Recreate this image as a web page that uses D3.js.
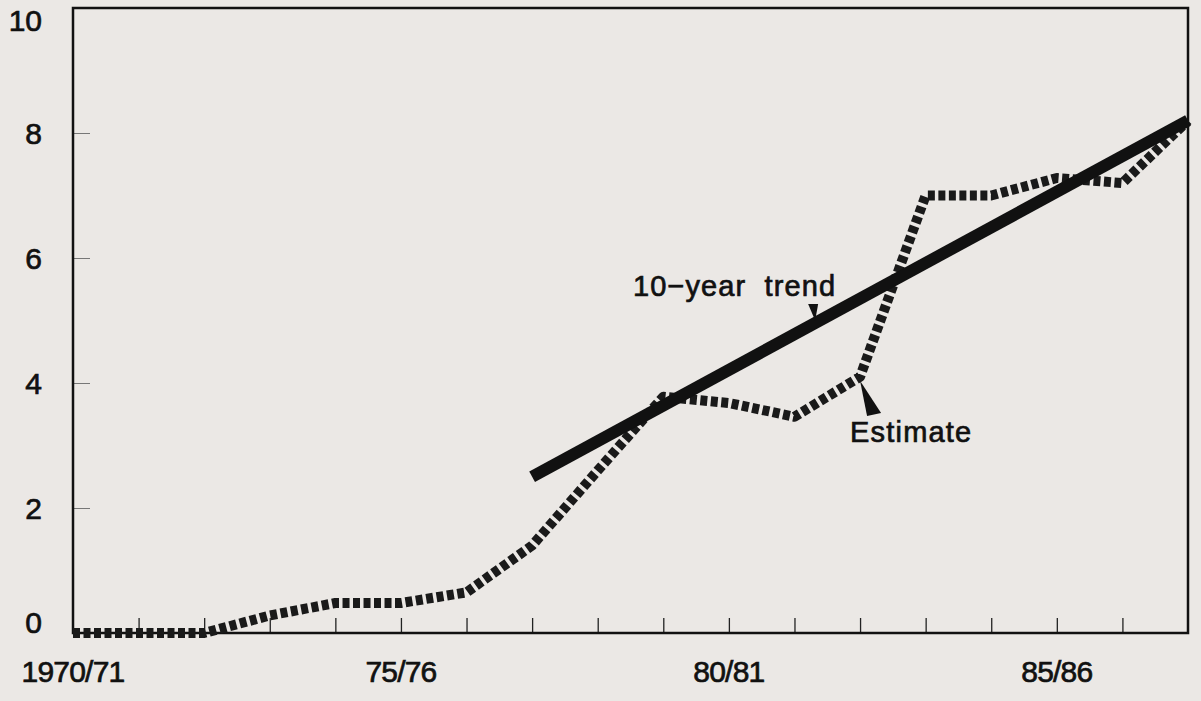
<!DOCTYPE html>
<html>
<head>
<meta charset="utf-8">
<script src="https://cdn.jsdelivr.net/npm/d3@7"></script>
<style>
  html, body { margin: 0; padding: 0; background: #ebe8e5; }
  svg { display: block; }
  text { font-family: "Liberation Sans", Arial, sans-serif; fill: #111; stroke: #111; stroke-width: 0.7; }
</style>
</head>
<body>
<div id="chart"></div>
<script>
// data
var years = [1970, 1971, 1972, 1973, 1974, 1975, 1976, 1977, 1978, 1979, 1980, 1981, 1982, 1983, 1984, 1985, 1986, 1987];
var estimate = [0, 0, 0, 0.28, 0.48, 0.48, 0.65, 1.4, 2.6, 3.78, 3.68, 3.46, 4.1, 7.0, 7.0, 7.28, 7.2, 8.2];
var trendYears = [1977, 1987];
var trendValues = [2.5, 8.2];
var yTicks = [0, 2, 4, 6, 8, 10];
var xLabelYears = [1970, 1975, 1980, 1985];
var xLabels = ["1970/71", "75/76", "80/81", "85/86"];

var width = 1201, height = 701;
var margin = { left: 73, right: 13, top: 8, bottom: 68 };

var svg = d3.select("#chart").append("svg")
  .attr("width", width)
  .attr("height", height);

var x = d3.scaleLinear().domain([1970, 1987]).range([margin.left, width - margin.right]);
var y = d3.scaleLinear().domain([0, 10]).range([height - margin.bottom, margin.top]);

// y ticks (thin grey, inside)
svg.append("g")
  .attr("transform", "translate(" + x(1970) + ",0)")
  .call(d3.axisLeft(y).tickValues(yTicks.slice(1, 5)).tickSize(-17).tickFormat(""))
  .call(function (g) {
    g.select(".domain").remove();
    g.selectAll("line").attr("stroke", "#777").attr("stroke-width", 1);
  });

// x ticks (inside, upward)
svg.append("g")
  .attr("transform", "translate(0," + y(0) + ")")
  .call(d3.axisBottom(x).tickValues(years.slice(1, -1)).tickSize(-15).tickFormat(""))
  .call(function (g) {
    g.select(".domain").remove();
    g.selectAll("line").attr("stroke", "#222").attr("stroke-width", 1.3);
  });

// frame
svg.append("rect")
  .attr("x", x(1970))
  .attr("y", y(10))
  .attr("width", x(1987) - x(1970))
  .attr("height", y(0) - y(10))
  .attr("fill", "none")
  .attr("stroke", "#111")
  .attr("stroke-width", 2.5);

// y labels
svg.append("g").selectAll("text")
  .data(yTicks)
  .enter().append("text")
  .attr("x", 42)
  .attr("y", function (d) { return Math.min(Math.max(y(d), 20), 622); })
  .attr("dy", "0.36em")
  .attr("text-anchor", "end")
  .attr("font-size", 30)
  .text(function (d) { return d; });

// x labels
svg.append("g").selectAll("text")
  .data(xLabelYears)
  .enter().append("text")
  .attr("x", function (d) { return x(d); })
  .attr("y", 682)
  .attr("text-anchor", "middle")
  .attr("font-size", 30)
  .attr("letter-spacing", -0.8)
  .text(function (d, i) { return xLabels[i]; });

// estimate (dashed thick line)
var line = d3.line()
  .x(function (d, i) { return x(years[i]); })
  .y(function (d) { return y(d); });

svg.append("path")
  .datum(estimate)
  .attr("d", line)
  .attr("fill", "none")
  .attr("stroke", "#1a1a1a")
  .attr("stroke-width", 10)
  .attr("stroke-linejoin", "round")
  .attr("stroke-dasharray", "7,3.5");

// trend line
var trendLine = d3.line()
  .x(function (d, i) { return x(trendYears[i]); })
  .y(function (d) { return y(d); });

svg.append("path")
  .datum(trendValues)
  .attr("d", trendLine)
  .attr("fill", "none")
  .attr("stroke", "#111")
  .attr("stroke-width", 12);

// annotations
function trendAt(yr) {
  return trendValues[0] + (yr - trendYears[0]) / (trendYears[1] - trendYears[0]) * (trendValues[1] - trendValues[0]);
}

svg.append("text")
  .attr("x", 633)
  .attr("y", 296)
  .attr("font-size", 29)
  .attr("letter-spacing", 1.1)
  .style("white-space", "pre")
  .text("10\u2212year  trend");

var ty = 1981.3;
svg.append("path")
  .attr("d", "M" + (x(ty) - 6) + ",304L" + (x(ty) + 4) + ",304L" + (x(ty) + 1) + "," + (y(trendAt(ty)) - 3) + "Z")
  .attr("fill", "#111");

svg.append("text")
  .attr("x", 850)
  .attr("y", 442)
  .attr("font-size", 29)
  .attr("letter-spacing", 1.2)
  .text("Estimate");

var ex = 1982.0;
svg.append("path")
  .attr("d", "M" + x(ex) + "," + (y(estimate[12]) + 4) + "L" + (x(ex) + 21) + ",413L" + (x(ex) + 7) + ",416Z")
  .attr("fill", "#111");
</script>
</body>
</html>
